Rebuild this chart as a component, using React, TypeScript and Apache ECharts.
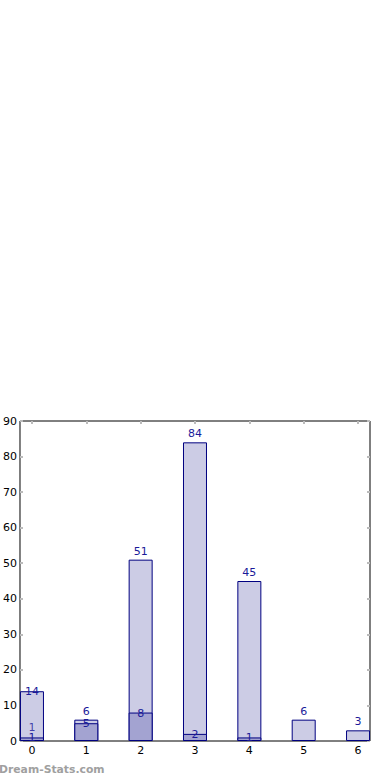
import React, { useEffect, useRef } from "react";
import * as echarts from "echarts";

const categories = [0, 1, 2, 3, 4, 5, 6];
const totalValues = [14, 6, 51, 84, 45, 6, 3];
const subValues = [1, 5, 8, 2, 1, 0, 0];
const extraLabelValues = [1, null, null, null, null, null, null];
const yTicks = [0, 10, 20, 30, 40, 50, 60, 70, 80, 90];

export default function App() {
  const ref = useRef<HTMLDivElement>(null);
  useEffect(() => {
    if (!ref.current) return;
    const chart = echarts.init(ref.current, null, { renderer: "svg" });
    const font = "DejaVu Sans";
    const labelColor = "#1a1a99";
    const tick = { show: true, inside: true, length: 3, lineStyle: { color: "#bbbbbb", width: 2 } };
    const xAxisBase = {
      type: "value" as const,
      min: -0.22,
      max: 6.22,
      splitLine: { show: false },
      axisLine: { show: false, onZero: false },
    };
    const yAxisBase = {
      type: "value" as const,
      min: 0,
      max: 90,
      interval: 10,
      splitLine: { show: false },
      axisLine: { show: false, onZero: false },
    };
    chart.setOption({
      animation: false,
      grid: {
        left: 19,
        right: 20,
        top: 421,
        bottom: 39,
        show: true,
        borderColor: "#000",
        borderWidth: 1,
        backgroundColor: "transparent",
      },
      xAxis: [
        {
          ...xAxisBase,
          position: "bottom",
          axisTick: { ...tick, customValues: categories },
          axisLabel: {
            customValues: categories,
            color: "#000",
            fontFamily: font,
            fontSize: 11,
            margin: 4,
          },
        },
        {
          ...xAxisBase,
          position: "top",
          axisTick: { ...tick, customValues: categories },
          axisLabel: { show: false },
        },
      ],
      yAxis: [
        {
          ...yAxisBase,
          position: "left",
          axisTick: { ...tick, customValues: yTicks },
          axisLabel: { customValues: yTicks, color: "#000", fontFamily: font, fontSize: 11, margin: 3 },
        },
        {
          ...yAxisBase,
          position: "right",
          axisTick: { ...tick, customValues: yTicks },
          axisLabel: { show: false },
        },
      ],
      series: [
        {
          type: "bar",
          barWidth: 24,
          barGap: "-100%",
          data: categories.map((c, i) => ({
            value: [c, totalValues[i]],
            label:
              i === 0
                ? { show: true, position: "top", distance: -6 }
                : undefined,
          })),
          itemStyle: { color: "#ccccE5", borderColor: "#000080", borderWidth: 1 },
          label: {
            show: true,
            position: "top",
            distance: 3,
            color: labelColor,
            fontFamily: font,
            fontSize: 11,
            formatter: (p: any) => String(p.value[1]),
          },
        },
        {
          type: "bar",
          barWidth: 24,
          barGap: "-100%",
          data: categories
            .map((c, i) => (subValues[i] > 0 ? [c, subValues[i]] : null))
            .filter((d) => d !== null),
          itemStyle: { color: "#a3a3d1", borderColor: "#000080", borderWidth: 1 },
          label: {
            show: true,
            position: "top",
            distance: -6,
            color: labelColor,
            fontFamily: font,
            fontSize: 11,
            formatter: (p: any) => String(p.value[1]),
          },
        },
        {
          type: "scatter",
          symbolSize: 0,
          data: categories
            .map((c, i) => (extraLabelValues[i] != null ? [c, extraLabelValues[i]] : null))
            .filter((d) => d !== null),
          label: {
            show: true,
            position: "top",
            distance: 4,
            color: labelColor,
            fontFamily: font,
            fontSize: 11,
            formatter: (p: any) => String(p.value[1]),
          },
        },
      ],
      graphic: [
        {
          type: "text",
          left: -1,
          top: 764,
          style: {
            text: "Dream-Stats.com",
            fill: "#a0a0a0",
            fontFamily: font,
            fontSize: 10.8,
            fontWeight: "bold",
          },
        },
      ],
    });
    return () => chart.dispose();
  }, []);
  return <div ref={ref} style={{ width: 390, height: 780, position: "absolute", left: 0, top: 0 }} />;
}
